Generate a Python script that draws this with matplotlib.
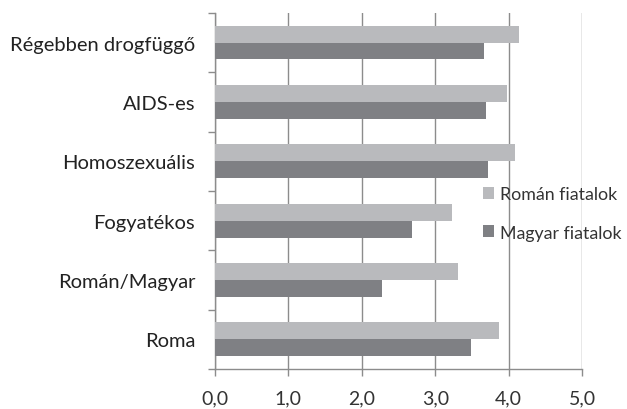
import matplotlib
matplotlib.use("Agg")
import matplotlib.pyplot as plt
import numpy as np

# categories, top to bottom as in the chart
categories = ["Régebben drogfüggő", "AIDS-es", "Homoszexuális",
              "Fogyatékos", "Román/Magyar", "Roma"]
roman = [4.14, 3.97, 4.08, 3.23, 3.31, 3.87]
magyar = [3.66, 3.69, 3.72, 2.68, 2.28, 3.48]
xticks = [0, 1, 2, 3, 4, 5]
xlabels = ["0,0", "1,0", "2,0", "3,0", "4,0", "5,0"]

plt.rcParams['font.family'] = ['Lato', 'DejaVu Sans']
axis_col = "#8c8c8c"

fig = plt.figure(figsize=(6.27, 4.10), dpi=100)
ax = fig.add_axes([0.3424, 0.0976, 0.5863, 0.8683])

n = len(categories)
pos = np.arange(n)[::-1]  # top category at top
h = 0.284
ax.barh(pos + h / 2, roman, height=h, color="#b9babd", label="Román fiatalok", zorder=3)
ax.barh(pos - h / 2, magyar, height=h, color="#7f8084", label="Magyar fiatalok", zorder=3)

ax.set_xlim(0, 5)
ax.set_ylim(-0.5, n - 0.5)
ax.set_xticks(xticks)
ax.set_xticklabels(xlabels, fontsize=14, color="#333333")
ax.set_yticks(pos)
ax.set_yticklabels(categories, fontsize=14.5, color="#222222")
ax.set_yticks(np.arange(-0.5, n, 1), minor=True)
ax.tick_params(axis="y", which="major", length=0, pad=14)
ax.tick_params(axis="y", which="minor", length=5, color=axis_col, width=1)
ax.tick_params(axis="x", length=5, color=axis_col, width=1, pad=10)

ax.grid(axis="x", color=axis_col, linewidth=1, zorder=0)
for s in ["top", "right"]:
    ax.spines[s].set_visible(False)
for s in ["left", "bottom"]:
    ax.spines[s].set_color(axis_col)
    ax.spines[s].set_linewidth(1)

ax.legend(loc="upper left", bbox_to_anchor=(0.770, 0.543), bbox_transform=fig.transFigure,
          frameon=False, fontsize=12.8, handlelength=0.65, handleheight=0.65,
          handletextpad=0.3, labelspacing=1.25, borderaxespad=0, borderpad=0,
          labelcolor="#333333")

fig.savefig("out.png", dpi=100)
